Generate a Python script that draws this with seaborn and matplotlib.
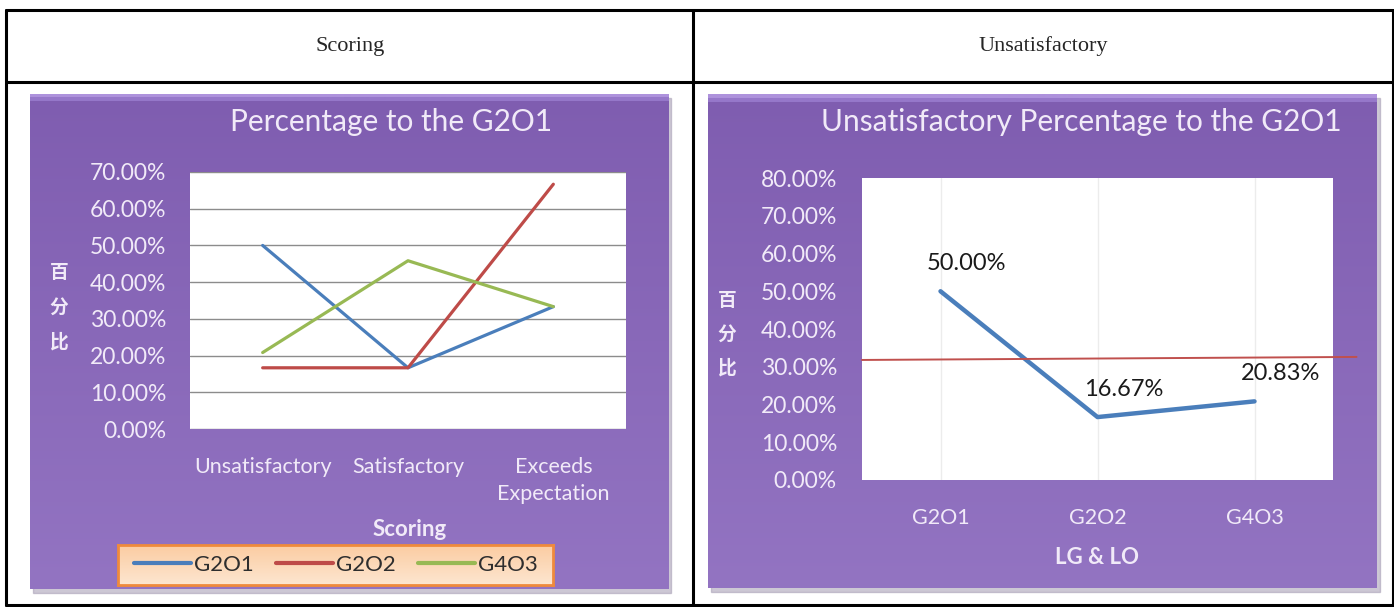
import numpy as np
import pandas as pd
import matplotlib
matplotlib.use("Agg")
import matplotlib.pyplot as plt
from matplotlib.lines import Line2D
from matplotlib.patches import Rectangle
import seaborn as sns

# datos del grafico izquierdo (porcentaje por puntuacion)
categorias = ["Unsatisfactory", "Satisfactory", "Exceeds\nExpectation"]
series = ["G2O1", "G2O2", "G4O3"]
g2o1 = [50.00, 16.67, 33.33]
g2o2 = [16.67, 16.67, 66.67]
g4o3 = [20.83, 45.83, 33.33]

# datos del grafico derecho (insatisfactorio por LG & LO)
lg_lo = ["G2O1", "G2O2", "G4O3"]
insatisfactorio = [50.00, 16.67, 20.83]
linea_ref = [31.8, 32.6]  # linea roja casi horizontal

colores = {"G2O1": "#4a7ebb", "G2O2": "#be4b48", "G4O3": "#98b954"}

W, H = 1394, 607


def box(x0, y0, x1, y1):
    return [x0 / W, 1 - y1 / H, (x1 - x0) / W, (y1 - y0) / H]


def fx(x):
    return x / W


def fy(y):
    return 1 - y / H


sns.set_style("white")
plt.rcParams['font.family'] = ['Lato', 'DejaVu Sans']

fig = plt.figure(figsize=(W / 100, H / 100), dpi=100)
fig.patch.set_facecolor("white")

# tabla
tabla = dict(color="black", lw=2.2)
for y in (10, 82, 605):
    fig.add_artist(Line2D([fx(6), fx(1393)], [fy(y), fy(y)], **tabla))
for x in (6, 693, 1393):
    fig.add_artist(Line2D([fx(x), fx(x)], [fy(10), fy(605)], **tabla))
fig.text(fx(350), fy(46), "Scoring", family="Liberation Serif", fontsize=16, ha="center", va="center")
fig.text(fx(1043), fy(46), "Unsatisfactory", family="Liberation Serif", fontsize=16, ha="center", va="center")


def marco(x0, y0, x1, y1):
    # sombra
    fig.add_artist(Rectangle((fx(x0 + 3), fy(y1 + 4)), fx(x1 - x0), (y1 - y0) / H,
                             transform=fig.transFigure, color="#aaa2b8", alpha=0.6, zorder=0))
    bg = fig.add_axes(box(x0, y0, x1, y1), zorder=1)
    arriba = np.array([0x7f, 0x5d, 0xb0]) / 255
    abajo = np.array([0x93, 0x74, 0xc2]) / 255
    t = np.linspace(0, 1, 500)[:, None, None]
    grad = arriba * (1 - t) + abajo * t
    grad[:4] = np.array([0xae, 0x92, 0xdc]) / 255
    grad[4:8] = np.array([0x96, 0x78, 0xca]) / 255
    bg.imshow(grad, aspect="auto", extent=[0, 1, 0, 1])
    bg.set_axis_off()


marco(30, 94, 668, 589)
marco(708, 94, 1377, 588)

txt = "#f1eaf8"

# ---------- grafico izquierdo ----------
df = pd.DataFrame({
    "Scoring": categorias * 3,
    "Serie": sum([[s] * 3 for s in series], []),
    "Valor": g2o1 + g2o2 + g4o3,
})
ax = fig.add_axes(box(190, 172, 626, 429), zorder=2)
sns.lineplot(data=df, x="Scoring", y="Valor", hue="Serie", hue_order=series,
             palette=colores, sort=False, linewidth=2.3, ax=ax)
ax.set_facecolor("white")
ax.set_xlim(-0.5, 2.5)
ax.set_ylim(0, 70)
ax.set_yticks(range(0, 71, 10))
ax.set_yticklabels([f"{v:.2f}%" for v in range(0, 71, 10)])
ax.yaxis.grid(True, color="#8c8c8c", lw=1)
ax.set_axisbelow(True)
for s in ax.spines.values():
    s.set_visible(False)
ax.tick_params(axis="y", length=0, pad=17, labelsize=16.5, labelcolor=txt)
ax.tick_params(axis="x", length=0, pad=20, labelsize=15.5, labelcolor=txt)
for lab in ax.get_xticklabels():
    lab.set_linespacing(1.45)
ax.set_xlabel("")
ax.set_ylabel("")
handles, labels = ax.get_legend_handles_labels()
ax.get_legend().remove()

fig.text(fx(391), fy(122), "Percentage to the G2O1", fontsize=21.5, color=txt, ha="center", va="center")
fig.text(fx(410), fy(530), "Scoring", fontsize=16, weight="bold", color=txt, ha="center", va="center")
for i, ch in enumerate("百分比"):
    fig.text(fx(59), fy(272 + 35 * i), ch, family=["Noto Sans CJK SC", "DejaVu Sans"],
             fontsize=13.5, weight="bold", color=txt, ha="center", va="center")

# leyenda
lg = fig.add_axes(box(118, 545, 553, 585), zorder=3)
t = np.linspace(0, 1, 50)[:, None, None]
lg.imshow(np.array([0xfb, 0xcc, 0xa2]) / 255 * (1 - t) + np.array([0xfd, 0xe6, 0xd0]) / 255 * t,
          aspect="auto", extent=[0, 1, 0, 1])
lg.set_xticks([])
lg.set_yticks([])
for s in lg.spines.values():
    s.set_color("#ef8a3c")
    s.set_linewidth(2)
for h in handles:
    h.set_linewidth(3)
lg.legend(handles, labels, loc="center", ncol=3, frameon=False, fontsize=16,
          handlelength=2.6, handletextpad=0.1, columnspacing=1.0, labelcolor="#2e2e2e")

# ---------- grafico derecho ----------
dr = pd.DataFrame({"LG": lg_lo, "Valor": insatisfactorio})
ax2 = fig.add_axes(box(862, 178, 1333, 480), zorder=2)
sns.lineplot(data=dr, x="LG", y="Valor", sort=False, color="#4a7ebb", linewidth=3.2, ax=ax2)
ax2.set_facecolor("white")
ax2.set_xlim(-0.5, 2.5)
ax2.set_ylim(0, 80)
ax2.set_yticks(range(0, 81, 10))
ax2.set_yticklabels([f"{v:.2f}%" for v in range(0, 81, 10)])
ax2.xaxis.grid(True, color="#ececec", lw=1)
ax2.set_axisbelow(True)
for s in ax2.spines.values():
    s.set_visible(False)
ax2.tick_params(axis="y", length=0, pad=18, labelsize=16.5, labelcolor=txt)
ax2.tick_params(axis="x", length=0, pad=20, labelsize=15.5, labelcolor=txt)
ax2.set_xlabel("")
ax2.set_ylabel("")
ax2.plot([-0.5, 2.65], linea_ref, color="#c0504d", lw=1.4, clip_on=False)
for i, v in enumerate(insatisfactorio):
    ax2.annotate(f"{v:.2f}%", (i, v), xytext=(19, 20), textcoords="offset points",
                 ha="center", va="center", fontsize=17, color="#1a1a1a")

fig.text(fx(1081), fy(122), "Unsatisfactory Percentage to the G2O1", fontsize=21.5, color=txt,
         ha="center", va="center")
fig.text(fx(1097), fy(557), "LG & LO", fontsize=16, weight="bold", color=txt, ha="center", va="center")
for i, ch in enumerate("百分比"):
    fig.text(fx(727), fy(300 + 34 * i), ch, family=["Noto Sans CJK SC", "DejaVu Sans"],
             fontsize=13.5, weight="bold", color=txt, ha="center", va="center")

plt.savefig("out.png", dpi=100)
